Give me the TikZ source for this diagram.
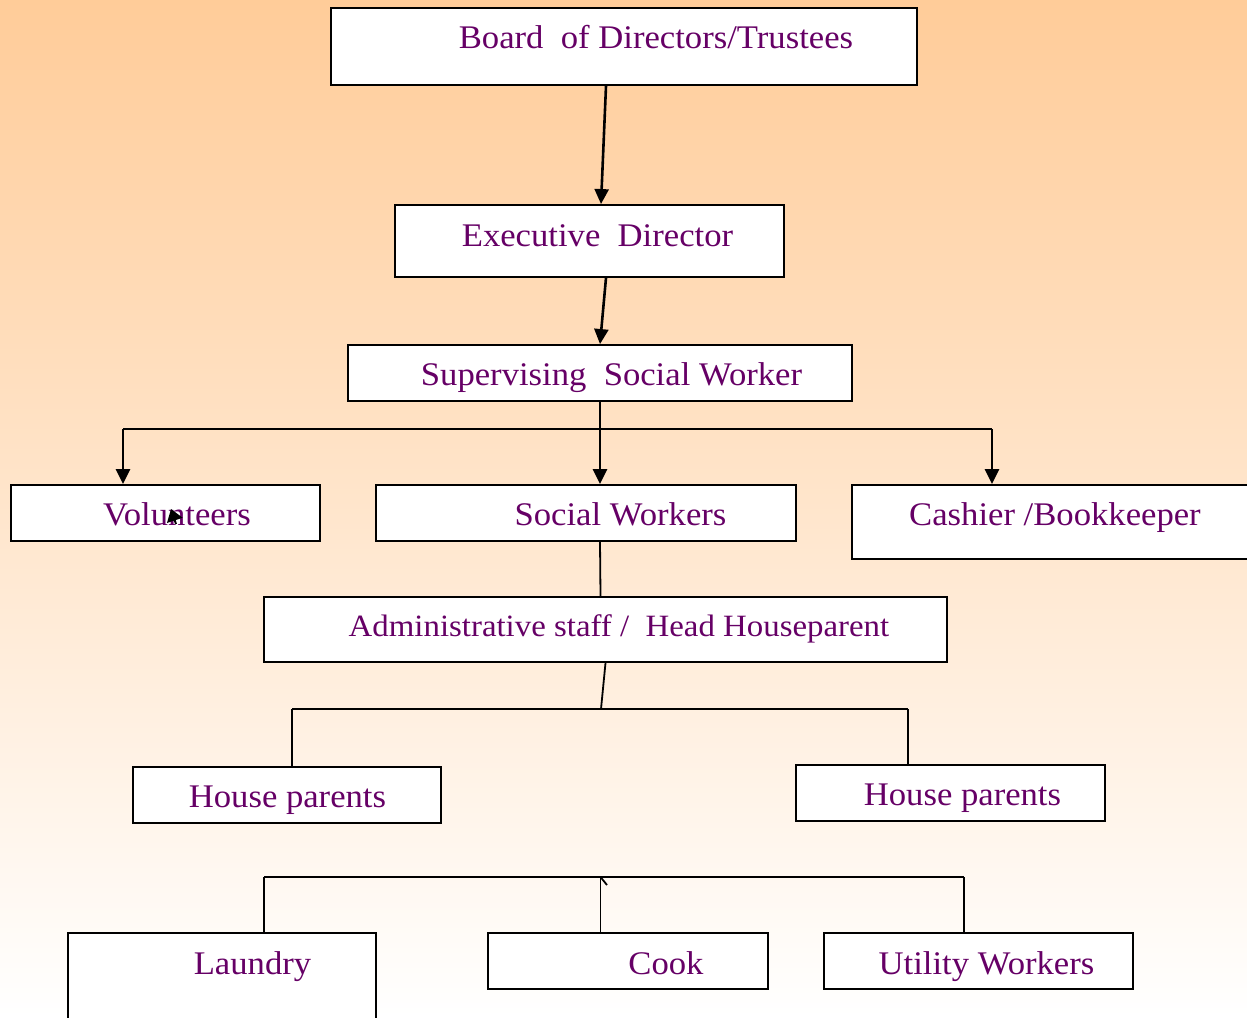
\documentclass[tikz,border=0pt]{standalone}
\usepackage{fontspec}
\setmainfont{Liberation Serif}
\newfontfamily\lblfont{Liberation Serif}[FakeStretch=1.05]
\newfontfamily\admfont{Liberation Serif}[FakeStretch=1.06]
\usetikzlibrary{arrows.meta,calc}
\definecolor{peach}{RGB}{255,204,153}
\definecolor{txtpurple}{RGB}{102,0,102}
\begin{document}
\begin{tikzpicture}[x=1pt,y=-1pt,
  box/.style={draw=black,line width=1.9pt,fill=white,inner sep=0pt},
  lbl/.style={text=txtpurple,font=\lblfont\fontsize{33}{38}\selectfont,inner sep=0pt,anchor=center,text height=21.8pt,text depth=0pt},
  admlbl/.style={lbl,font=\admfont\fontsize{31}{36}\selectfont,text height=20.5pt},
  conn/.style={line width=1.8pt,draw=black},
  arr/.style={line width=2.6pt,draw=black,-{Triangle[length=15pt,width=14pt]}}]
\useasboundingbox (0,0) rectangle (1247,1017);
\shade[top color=peach,bottom color=white] (0,0) rectangle (1247,1017);
\begin{scope}
\clip (0,0) rectangle (1247,1017);
% boxes
\node[box,minimum width=586pt,minimum height=77pt] (board) at (624,46.5) {};
\node[box,minimum width=389pt,minimum height=72pt] (exec) at (589.5,241) {};
\node[box,minimum width=504pt,minimum height=56pt] (ssw) at (600,373) {};
\node[box,minimum width=309pt,minimum height=56pt] (vol) at (165.5,513) {};
\node[box,minimum width=420pt,minimum height=56pt] (sw) at (586,513) {};
\node[box,minimum width=410pt,minimum height=74pt] (cash) at (1057,522) {};
\node[box,minimum width=683pt,minimum height=65pt] (admin) at (605.5,629.5) {};
\node[box,minimum width=308pt,minimum height=56pt] (hpl) at (287,795) {};
\node[box,minimum width=309pt,minimum height=56pt] (hpr) at (950.5,793) {};
\node[box,minimum width=308pt,minimum height=95pt] (laundry) at (222,980.5) {};
\node[box,minimum width=280pt,minimum height=56pt] (cook) at (628,961) {};
\node[box,minimum width=309pt,minimum height=56pt] (util) at (978.5,961) {};
% texts
\node[lbl] (boardT) at (656,38) {Board\ \ of Directors/Trustees};
\node[lbl] (execT) at (597.5,235.5) {Executive\ \ Director};
\node[lbl] (sswT) at (611.5,374.5) {Supervising\ \ Social Worker};
\node[lbl] (volT) at (177,514.5) {Volunteers};
\node[lbl] (swT) at (620.5,514.5) {Social Workers};
\node[lbl] (cashT) at (1055,514.5) {Cashier /Bookkeeper};
\node[admlbl] (adminT) at (619,626) {Administrative staff /\ \ Head Houseparent};
\node[lbl] (hplT) at (287.5,797) {House parents};
\node[lbl] (hprT) at (962.5,795) {House parents};
\node[lbl] (laundryT) at (252.5,964) {Laundry};
\node[lbl] (cookT) at (666,964) {Cook};
\node[lbl] (utilT) at (986.5,964) {Utility Workers};
\end{scope}
% junction coordinates
\coordinate (j1l) at (123,429);
\coordinate (j1r) at (992,429);
\coordinate (j2) at (601,709);
\coordinate (j2l) at (292,709);
\coordinate (j2r) at (908,709);
\coordinate (j3l) at (264,877);
\coordinate (j3m) at (600.5,877);
\coordinate (j3r) at (964,877);
\coordinate (tick) at (607,885);
\coordinate (volA) at (176,524);
\coordinate (volB) at (171,509);
% connectors
\draw[arr] ([xshift=-18pt]board.south) -- ([xshift=11.5pt]exec.north);
\draw[arr] ([xshift=16.5pt]exec.south) -- (ssw.north);
\draw[arr] (ssw.south) -- ([xshift=14pt]sw.north);
\draw[conn] (j1l) -- (j1r);
\draw[arr] (j1l) -- ([xshift=-42.5pt]vol.north);
\draw[arr] (j1r) -- ([xshift=-65pt]cash.north);
\draw[conn] ([xshift=14pt]sw.south) -- ([xshift=-5pt]admin.north);
\draw[conn] (admin.south) -- (j2);
\draw[conn] (j2l) -- (j2r);
\draw[conn] (j2l) -- ([xshift=5pt]hpl.north);
\draw[conn] (j2r) -- ([xshift=-42.5pt]hpr.north);
\draw[conn] (j3l) -- (j3r);
\draw[conn] (j3l) -- ([xshift=42pt]laundry.north);
\draw[conn] (j3m) -- ([xshift=-27.5pt]cook.north);
\draw[conn] (j3r) -- ([xshift=-14.5pt]util.north);
\draw[conn] (j3m) -- (tick);
\draw[line width=2pt,-{Triangle[length=12pt,width=16pt]}] (volA) -- (volB);
\end{tikzpicture}
\end{document}
